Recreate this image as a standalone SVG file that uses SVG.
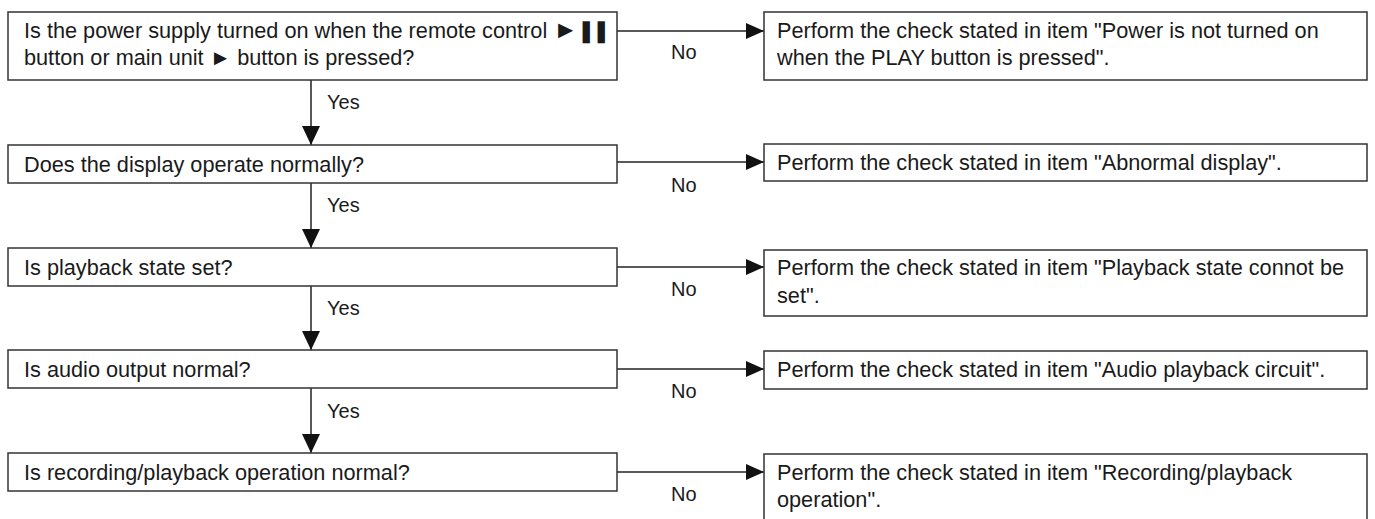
<svg xmlns="http://www.w3.org/2000/svg" width="1375" height="519" viewBox="0 0 1375 519">
  <style>
    .box { fill: #ffffff; stroke: #333333; stroke-width: 1.5; }
    .txt { font-family: "Liberation Sans", Arial, sans-serif; font-size: 21.7px; fill: #1a1a1a; }
    .lbl { font-family: "Liberation Sans", Arial, sans-serif; font-size: 20px; fill: #1a1a1a; }
    .line { stroke: #222222; stroke-width: 1.5; fill: none; }
    .head { fill: #111111; }
    .play { font-size: 25px; }
    .bars { letter-spacing: -3px; }
  </style>
  <defs>
    <marker id="arrowDown" markerUnits="userSpaceOnUse" markerWidth="18" markerHeight="20" refX="9" refY="19" orient="0" viewBox="0 0 18 20">
      <polygon class="head" points="0,0 18,0 9,19"/>
    </marker>
    <marker id="arrowRight" markerUnits="userSpaceOnUse" markerWidth="19" markerHeight="16" refX="18" refY="8" orient="0" viewBox="0 0 19 16">
      <polygon class="head" points="0,0 18,8 0,16"/>
    </marker>
  </defs>

  <rect width="1375" height="519" fill="#ffffff"/>

  <!-- connectors -->
  <g id="connectors">
    <line class="line" x1="311" y1="80" x2="311" y2="145" marker-end="url(#arrowDown)"/>
    <line class="line" x1="311" y1="183" x2="311" y2="248" marker-end="url(#arrowDown)"/>
    <line class="line" x1="311" y1="286" x2="311" y2="350" marker-end="url(#arrowDown)"/>
    <line class="line" x1="311" y1="388" x2="311" y2="453" marker-end="url(#arrowDown)"/>

    <line class="line" x1="617" y1="31" x2="764" y2="31" marker-end="url(#arrowRight)"/>
    <line class="line" x1="617" y1="162" x2="764" y2="162" marker-end="url(#arrowRight)"/>
    <line class="line" x1="617" y1="267" x2="764" y2="267" marker-end="url(#arrowRight)"/>
    <line class="line" x1="617" y1="369" x2="764" y2="369" marker-end="url(#arrowRight)"/>
    <line class="line" x1="617" y1="472" x2="764" y2="472" marker-end="url(#arrowRight)"/>

    <text class="lbl" x="327" y="109">Yes</text>
    <text class="lbl" x="327" y="212">Yes</text>
    <text class="lbl" x="327" y="315">Yes</text>
    <text class="lbl" x="327" y="418">Yes</text>

    <text class="lbl" x="671" y="59">No</text>
    <text class="lbl" x="671" y="192">No</text>
    <text class="lbl" x="671" y="296">No</text>
    <text class="lbl" x="671" y="398">No</text>
    <text class="lbl" x="671" y="501">No</text>
  </g>

  <!-- decision steps -->
  <g id="q1">
    <rect class="box" x="8" y="12" width="609" height="68"/>
    <text class="txt" x="24" y="38">Is the power supply turned on when the remote control <tspan class="play">►</tspan><tspan class="bars" dx="-1">❚❚</tspan></text>
    <text class="txt" x="24" y="65">button or main unit ► button is pressed?</text>
  </g>
  <g id="q2">
    <rect class="box" x="8" y="145" width="609" height="38"/>
    <text class="txt" x="24" y="172">Does the display operate normally?</text>
  </g>
  <g id="q3">
    <rect class="box" x="8" y="248" width="609" height="38"/>
    <text class="txt" x="24" y="275">Is playback state set?</text>
  </g>
  <g id="q4">
    <rect class="box" x="8" y="350" width="609" height="38"/>
    <text class="txt" x="24" y="377">Is audio output normal?</text>
  </g>
  <g id="q5">
    <rect class="box" x="8" y="453" width="609" height="38"/>
    <text class="txt" x="24" y="480">Is recording/playback operation normal?</text>
  </g>

  <!-- actions -->
  <g id="a1">
    <rect class="box" x="764" y="12" width="603" height="68"/>
    <text class="txt" x="777" y="38">Perform the check stated in item "Power is not turned on</text>
    <text class="txt" x="777" y="65">when the PLAY button is pressed".</text>
  </g>
  <g id="a2">
    <rect class="box" x="764" y="144" width="603" height="37"/>
    <text class="txt" x="777" y="170">Perform the check stated in item "Abnormal display".</text>
  </g>
  <g id="a3">
    <rect class="box" x="764" y="250" width="603" height="66"/>
    <text class="txt" x="777" y="275">Perform the check stated in item "Playback state connot be</text>
    <text class="txt" x="777" y="303">set".</text>
  </g>
  <g id="a4">
    <rect class="box" x="764" y="351" width="603" height="38"/>
    <text class="txt" x="777" y="377">Perform the check stated in item "Audio playback circuit".</text>
  </g>
  <g id="a5">
    <rect class="box" x="764" y="454" width="603" height="70"/>
    <text class="txt" x="777" y="480">Perform the check stated in item "Recording/playback</text>
    <text class="txt" x="777" y="507">operation".</text>
  </g>
</svg>
